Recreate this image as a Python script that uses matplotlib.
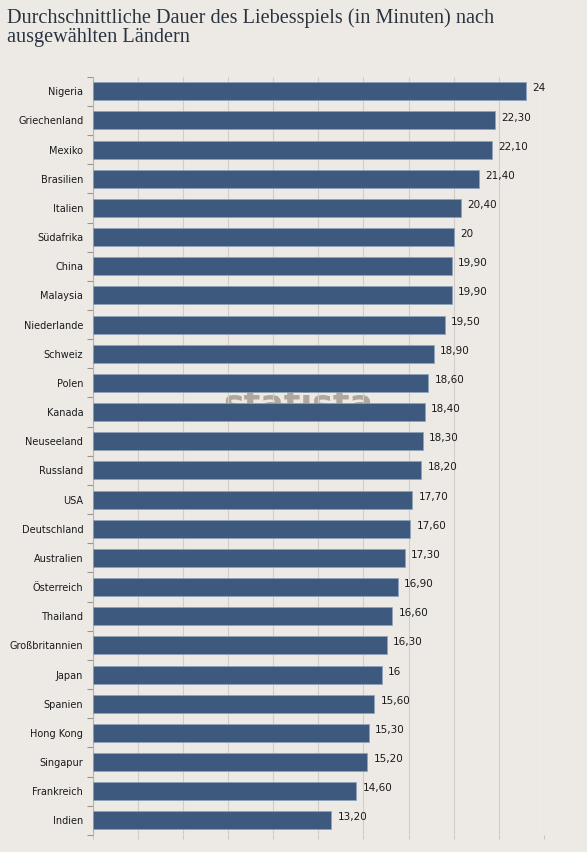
import matplotlib
matplotlib.use("Agg")
import matplotlib.pyplot as plt
import numpy as np

countries = ["Nigeria", "Griechenland", "Mexiko", "Brasilien", "Italien", "Südafrika",
             "China", "Malaysia", "Niederlande", "Schweiz", "Polen", "Kanada",
             "Neuseeland", "Russland", "USA", "Deutschland", "Australien", "Österreich",
             "Thailand", "Großbritannien", "Japan", "Spanien", "Hong Kong", "Singapur",
             "Frankreich", "Indien"]
minutes = [24, 22.3, 22.1, 21.4, 20.4, 20, 19.9, 19.9, 19.5, 18.9, 18.6, 18.4,
           18.3, 18.2, 17.7, 17.6, 17.3, 16.9, 16.6, 16.3, 16, 15.6, 15.3, 15.2,
           14.6, 13.2]
x_ticks = np.arange(0, 25.1, 2.5)

BG = "#edeae6"
BAR = "#3d5a7e"

def fmt(v):
    if float(v).is_integer():
        return f"{int(v)}"
    return f"{v:.2f}".replace(".", ",")

fig = plt.figure(figsize=(5.87, 8.52), dpi=100, facecolor=BG)
ax = fig.add_axes([0.1584, 0.020, 0.768, 0.890])
ax.set_facecolor(BG)

y = np.arange(len(countries))
ax.barh(y, minutes, height=0.62, color=BAR, edgecolor="#8fa3bb", linewidth=0.5, zorder=3)

for yi, v in zip(y, minutes):
    ax.text(v + 0.35, yi - 0.1, fmt(v), va="center", ha="left", fontsize=7.5,
            color="#1a1a1a", family="DejaVu Sans", zorder=4)

# faint watermark behind the bars
ax.text(11.4, 10.75, "statista", fontsize=25, color="#b0a79e", ha="center", va="center",
        fontweight="bold", zorder=1)

ax.set_xlim(0, 25)
ax.set_ylim(len(countries) - 0.5, -0.5)
ax.set_xticks(x_ticks)
ax.set_xticklabels([])
ax.set_yticks(y)
ax.set_yticklabels(countries, fontsize=7, color="#1a1a1a")
ax.set_yticks(np.arange(-0.5, len(countries)), minor=True)
ax.tick_params(axis="y", which="major", length=0, pad=7)
ax.tick_params(axis="y", which="minor", length=4, color="#9a9590", width=0.8)
ax.tick_params(axis="x", length=3, color="#c9c4bf", width=0.8)
ax.grid(axis="x", color="#d2cdc8", linewidth=0.8, zorder=0)
for s in ["top", "right", "bottom"]:
    ax.spines[s].set_visible(False)
ax.spines["left"].set_color("#b8b3ae")
ax.spines["left"].set_linewidth(0.8)

fig.text(0.012, 0.990, "Durchschnittliche Dauer des Liebesspiels (in Minuten) nach\nausgewählten Ländern",
         ha="left", va="top", fontsize=14.6, family="Liberation Serif", color="#2a3440",
         linespacing=0.95)

fig.savefig("out.png", dpi=100, facecolor=BG)
